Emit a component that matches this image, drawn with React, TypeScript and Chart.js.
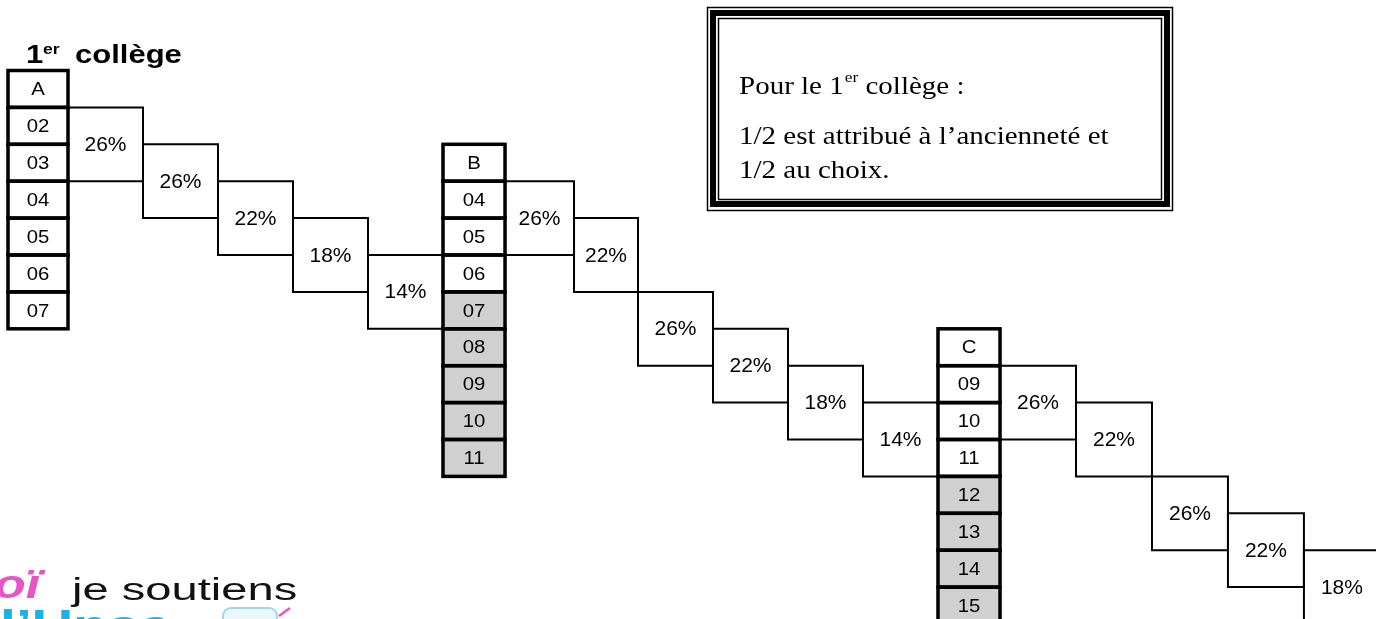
import React, { useEffect, useRef } from "react";
import { Chart, registerables } from "chart.js";

Chart.register(...registerables);

// ---------------- data ----------------
const columnNames = ["A", "B", "C"];
const cellsA = ["02", "03", "04", "05", "06", "07"];
const cellsB = ["04", "05", "06", "07", "08", "09", "10", "11"];
const cellsC = ["09", "10", "11", "12", "13", "14", "15"];
const shadedB = ["07", "08", "09", "10", "11"];
const shadedC = ["12", "13", "14", "15"];
const columnStartRow = [0, 2, 7];

const stepsA = ["26%", "26%", "22%", "18%", "14%"];
const stepsB = ["26%", "22%", "26%", "22%", "18%", "14%"];
const stepsC = ["26%", "22%", "26%", "22%", "18%"];
const stepRowsA = [1, 2, 3, 4, 5];
const stepRowsB = [3, 4, 6, 7, 8, 9];
const stepRowsC = [8, 9, 11, 12, 13];

const titleParts = ["1", "er", "collège"];
const noteLine1 = ["Pour le 1", "er", " collège :"];
const noteLine2 = "1/2 est attribué à l’ancienneté et";
const noteLine3 = "1/2 au choix.";
const logoText = "je soutiens";

// ---------------- layout / style ----------------
const W = 1376;
const H = 619;
const LEFT_PX = 8;
const TOP_PX = 70.5;
const STEP_PX = 75;
const ROW_PX = 36.9;
const COL_W = [0.8, 0.827, 0.827];
const STEP_W = [
  [1, 1, 1, 1, 1],
  [0.92, 0.853, 1, 1, 1, 1],
  [1.013, 1.013, 1.013, 1.013, 1.013],
];
const BOX_ROWS = 2;
const SANS = "'Liberation Sans', Arial, sans-serif";
const SERIF = "'Liberation Serif', 'Times New Roman', serif";
const GRAY = "#d0d0d0";

const columns = [
  { name: columnNames[0], cells: cellsA, shaded: [] as string[], start: columnStartRow[0], steps: stepsA, stepRows: stepRowsA },
  { name: columnNames[1], cells: cellsB, shaded: shadedB, start: columnStartRow[1], steps: stepsB, stepRows: stepRowsB },
  { name: columnNames[2], cells: cellsC, shaded: shadedC, start: columnStartRow[2], steps: stepsC, stepRows: stepRowsC },
];

type Box = { x0: number; x1: number; r0: number; r1: number; label: string };
type Col = { x0: number; x1: number; start: number; labels: string[]; shaded: string[] };

function buildLayout() {
  const boxes: Box[] = [];
  const cols: Col[] = [];
  let cx = 0;
  columns.forEach((col, ci) => {
    const x0 = cx;
    const x1 = cx + COL_W[ci];
    cols.push({ x0, x1, start: col.start, labels: [col.name, ...col.cells], shaded: col.shaded });
    let sx = x1;
    col.steps.forEach((lab, si) => {
      const w = STEP_W[ci][si];
      const r = col.stepRows[si];
      boxes.push({ x0: sx, x1: sx + w, r0: r, r1: r + BOX_ROWS, label: lab });
      sx += w;
    });
    cx = sx;
  });
  return { boxes, cols };
}

const { boxes, cols } = buildLayout();

const xMin = -LEFT_PX / STEP_PX;
const xMax = xMin + W / STEP_PX;
const yMin = -TOP_PX / ROW_PX;
const yMax = yMin + H / ROW_PX;

function stretchText(
  ctx: CanvasRenderingContext2D,
  text: string,
  x: number,
  y: number,
  font: string,
  sx: number,
  align: CanvasTextAlign = "left",
  baseline: CanvasTextBaseline = "alphabetic",
  color = "#000"
): number {
  ctx.save();
  ctx.font = font;
  ctx.fillStyle = color;
  ctx.textAlign = align;
  ctx.textBaseline = baseline;
  const w = ctx.measureText(text).width * sx;
  ctx.translate(x, y);
  ctx.scale(sx, 1);
  ctx.fillText(text, 0, 0);
  ctx.restore();
  return w;
}

const bgPlugin = {
  id: "bg",
  beforeDraw(chart: any) {
    const ctx = chart.ctx as CanvasRenderingContext2D;
    ctx.save();
    ctx.fillStyle = "#fff";
    ctx.fillRect(0, 0, chart.width, chart.height);
    ctx.restore();
  },
};

const diagramPlugin = {
  id: "diagram",
  afterDatasetsDraw(chart: any) {
    const ctx = chart.ctx as CanvasRenderingContext2D;
    const xs = chart.scales.x;
    const ys = chart.scales.y;
    const px = (v: number) => xs.getPixelForValue(v);
    const py = (v: number) => ys.getPixelForValue(v);

    // percentage labels
    boxes.forEach((b) => {
      const cx = (px(b.x0) + px(b.x1)) / 2;
      const cy = (py(b.r0) + py(b.r1)) / 2;
      stretchText(ctx, b.label, cx, cy + 1, `20px ${SANS}`, 1.05, "center", "middle");
    });

    // columns
    cols.forEach((c) => {
      const L = px(c.x0);
      const R = px(c.x1);
      c.labels.forEach((lab, i) => {
        const T = py(c.start + i);
        const B = py(c.start + i + 1);
        ctx.fillStyle = c.shaded.includes(lab) ? GRAY : "#fff";
        ctx.fillRect(L, T, R - L, B - T);
      });
      ctx.strokeStyle = "#000";
      ctx.lineWidth = 3.5;
      c.labels.forEach((lab, i) => {
        const T = py(c.start + i);
        const B = py(c.start + i + 1);
        ctx.strokeRect(L, T, R - L, B - T);
        stretchText(ctx, lab, (L + R) / 2, (T + B) / 2 + 1, `19px ${SANS}`, 1.07, "center", "middle");
      });
    });

    // title
    stretchText(ctx, titleParts[0], 26, 63, `bold 26.5px ${SANS}`, 1.17);
    stretchText(ctx, titleParts[1], 43, 54, `bold 15px ${SANS}`, 1.17);
    stretchText(ctx, titleParts[2], 75, 63, `bold 26.5px ${SANS}`, 1.17);

    // note box
    ctx.save();
    ctx.fillStyle = "#fff";
    ctx.fillRect(707, 7, 466, 204);
    ctx.strokeStyle = "#000";
    ctx.lineWidth = 1.5;
    ctx.strokeRect(707.5, 7.5, 465, 203);
    ctx.lineWidth = 6;
    ctx.strokeRect(713, 13, 454, 191);
    ctx.lineWidth = 1.5;
    ctx.strokeRect(718.5, 18.5, 443, 181);
    ctx.restore();
    const NS = 1.16;
    let nx = 739;
    nx += stretchText(ctx, noteLine1[0], nx, 94, `25px ${SERIF}`, NS);
    nx += stretchText(ctx, noteLine1[1], nx + 1, 82, `15px ${SERIF}`, NS) + 1;
    stretchText(ctx, noteLine1[2], nx, 94, `25px ${SERIF}`, NS);
    stretchText(ctx, noteLine2, 739, 144, `25px ${SERIF}`, NS);
    stretchText(ctx, noteLine3, 739, 178, `25px ${SERIF}`, NS);

    // logo
    stretchText(ctx, "oï", -6, 598, `italic bold 40px ${SANS}`, 1.3, "left", "alphabetic", "#e655c4");
    stretchText(ctx, logoText, 72, 600, `31px ${SANS}`, 1.52, "left", "alphabetic", "#111");
    stretchText(ctx, "l’Unsa", 0, 641, `bold 44px ${SANS}`, 1.3, "left", "alphabetic", "#1fb0e4");
    ctx.save();
    ctx.strokeStyle = "#9fd6ee";
    ctx.fillStyle = "#eaf7fd";
    ctx.lineWidth = 2;
    ctx.beginPath();
    ctx.roundRect(223, 608, 54, 24, 8);
    ctx.fill();
    ctx.stroke();
    ctx.strokeStyle = "#e655c4";
    ctx.lineWidth = 2.5;
    ctx.beginPath();
    ctx.moveTo(279, 616);
    ctx.lineTo(290, 608);
    ctx.stroke();
    ctx.restore();
  },
};

export default function App() {
  const ref = useRef<HTMLCanvasElement | null>(null);
  useEffect(() => {
    if (!ref.current) return;
    const datasets = boxes.map((b) => ({
      data: [
        { x: b.x0, y: b.r0 },
        { x: b.x1, y: b.r0 },
        { x: b.x1, y: b.r1 },
        { x: b.x0, y: b.r1 },
        { x: b.x0, y: b.r0 },
      ],
      showLine: true,
      borderColor: "#000",
      borderWidth: 2,
      borderCapStyle: "square" as const,
      borderJoinStyle: "miter" as const,
      pointRadius: 0,
      tension: 0,
      fill: false,
    }));
    const chart = new Chart(ref.current, {
      type: "scatter",
      data: { datasets },
      options: {
        animation: false,
        responsive: false,
        devicePixelRatio: 1,
        events: [],
        layout: { padding: 0 },
        plugins: { legend: { display: false }, tooltip: { enabled: false } },
        scales: {
          x: { type: "linear", display: false, min: xMin, max: xMax },
          y: { type: "linear", display: false, reverse: true, min: yMin, max: yMax },
        },
      },
      plugins: [bgPlugin, diagramPlugin],
    } as any);
    return () => chart.destroy();
  }, []);
  return (
    <div style={{ position: "absolute", left: 0, top: 0, width: W, height: H, background: "#fff" }}>
      <canvas ref={ref} width={W} height={H} style={{ display: "block" }} />
    </div>
  );
}
